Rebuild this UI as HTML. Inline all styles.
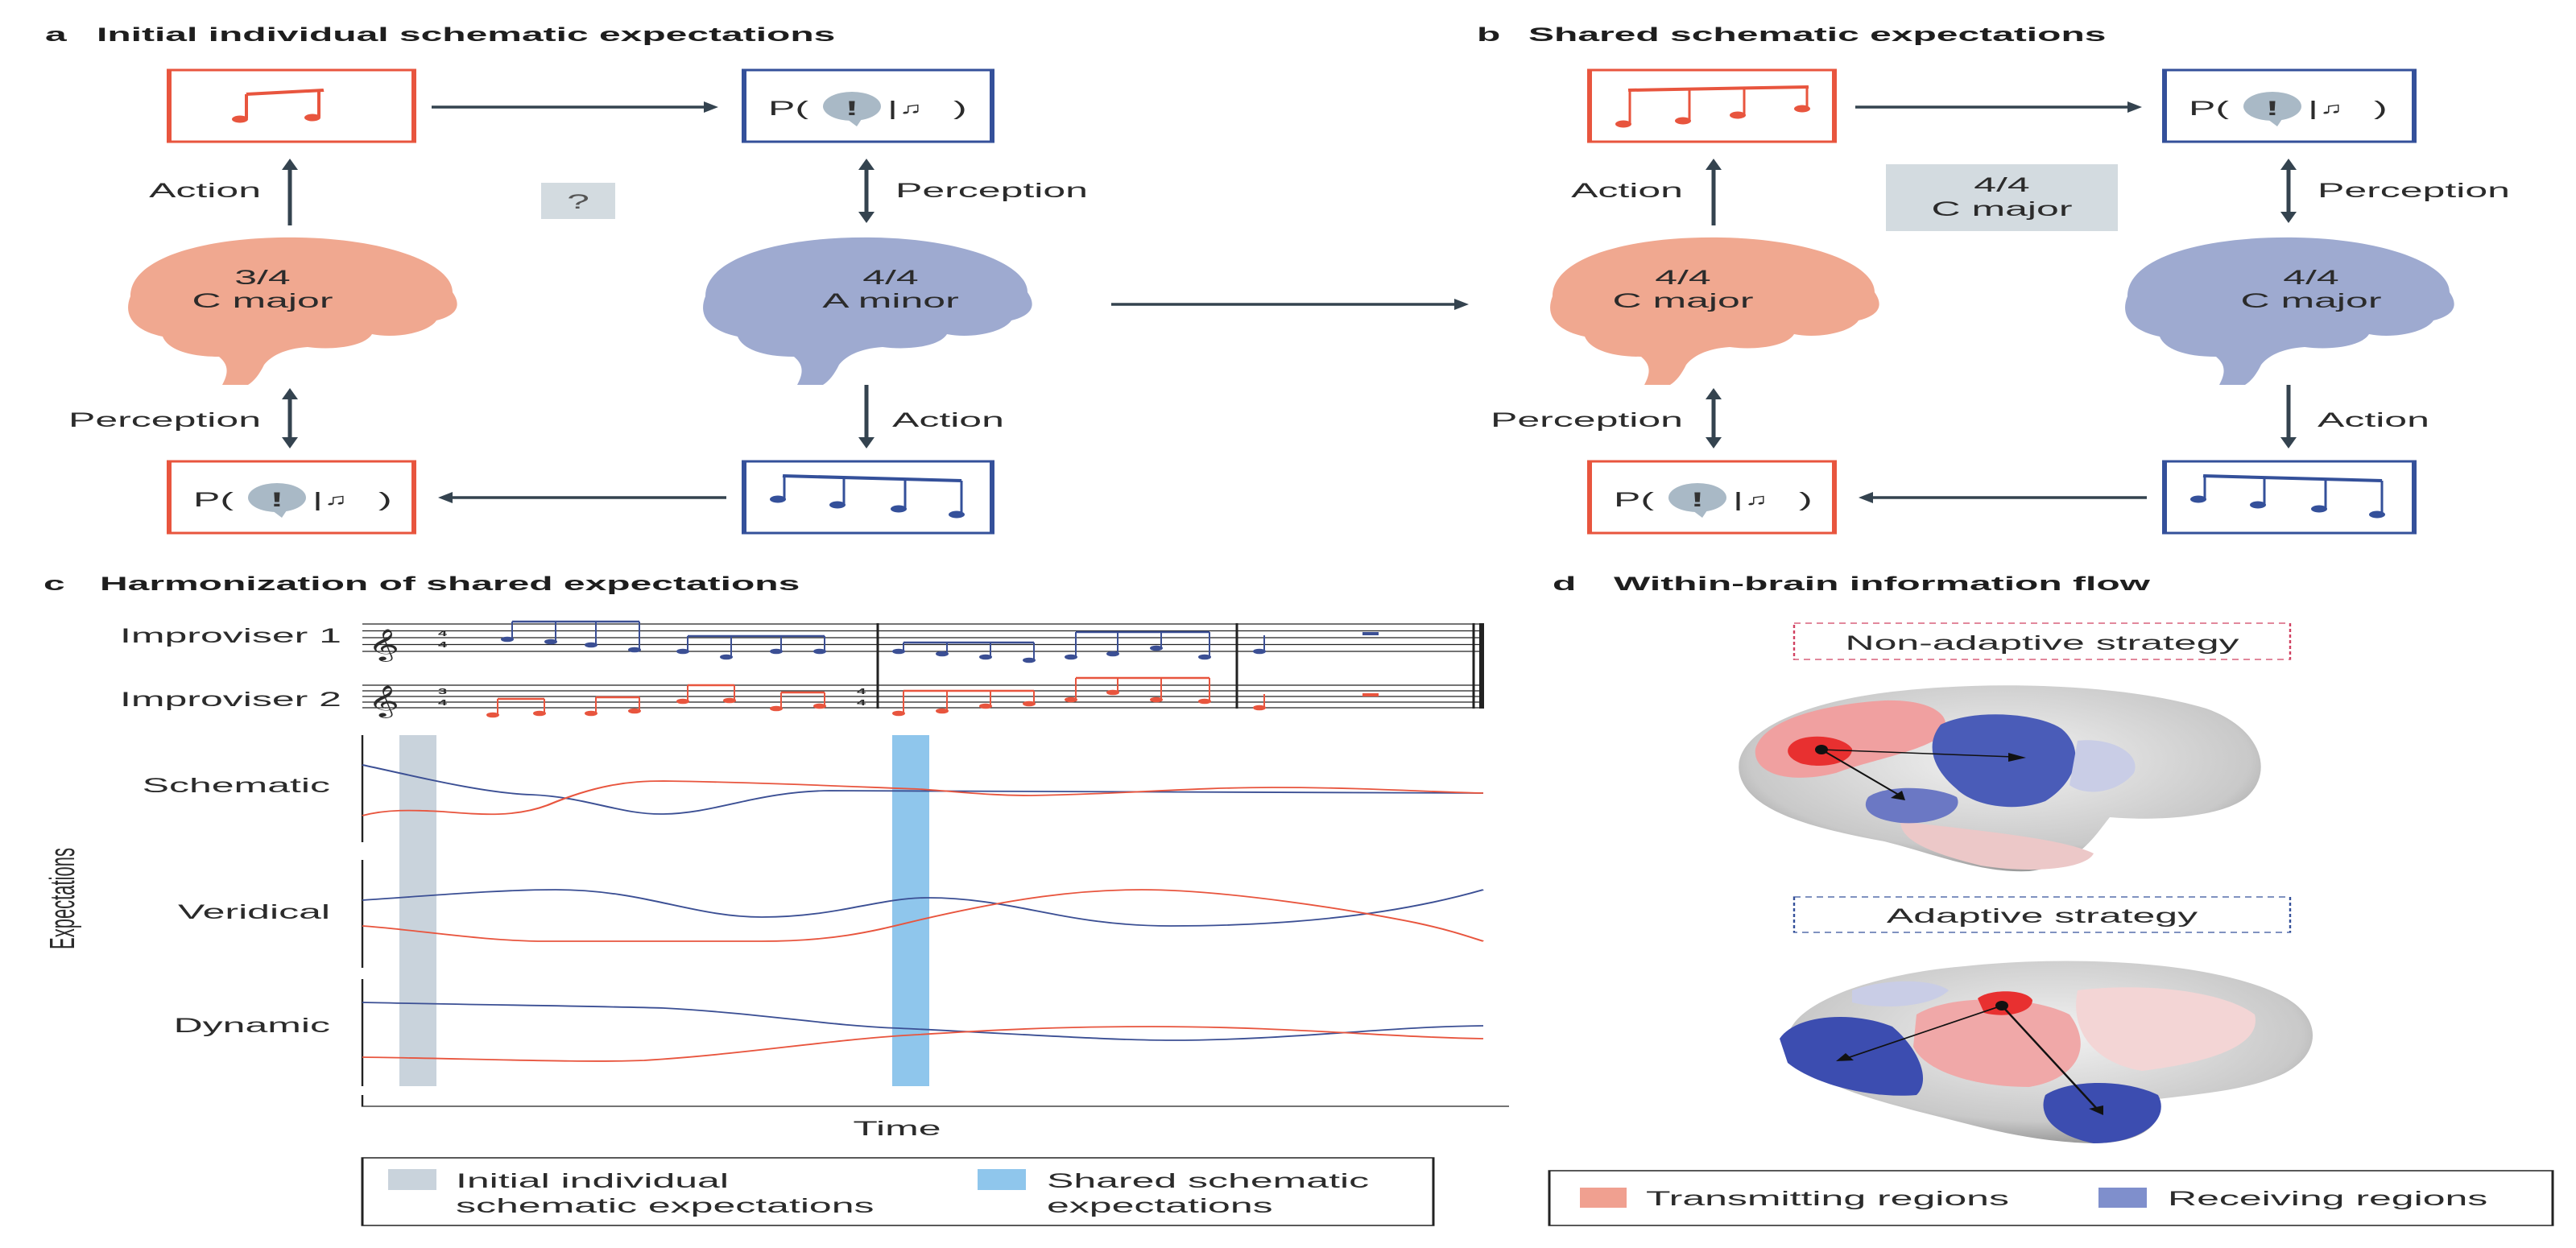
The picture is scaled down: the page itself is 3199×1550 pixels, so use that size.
<!DOCTYPE html>
<html><head><meta charset="utf-8"><style>
html,body{margin:0;padding:0;background:#fff;}
svg{display:block;}
text{font-family:"Liberation Sans","DejaVu Sans",sans-serif;fill:#2b2b2b;}
.t{font-weight:bold;font-size:24px;fill:#1e1e1e;}
.l{font-size:25px;}
.ar{stroke:#34434f;fill:none;}
.ah{fill:#34434f;}
.rb{fill:#fff;stroke:#e8553e;stroke-width:3;}
.bb{fill:#fff;stroke:#34509a;stroke-width:3;}
</style></head><body>
<svg width="3199" height="1550" viewBox="0 0 1599.5 1550" preserveAspectRatio="none" xmlns="http://www.w3.org/2000/svg">
<defs>
<path id="brain" d="M 5,75 C 5,25 55,0 110,2 C 165,4 205,35 205,70 C 212,90 205,100 195,105 C 190,120 170,128 155,122 C 150,138 130,142 115,138 C 100,140 92,150 88,160 C 85,172 82,180 78,185 L 62,185 C 66,170 66,160 60,150 C 40,150 28,140 25,125 C 8,118 0,100 5,75 Z"/>
<g id="pq">
<text x="15" y="56" class="l">P(</text>
<ellipse cx="67" cy="45" rx="18" ry="18" fill="#a9b9c6"/>
<path d="M62,58 L70,70 L74,58 Z" fill="#a9b9c6"/>
<text x="67" y="56" class="l" text-anchor="middle" style="font-weight:bold;fill:#333">!</text>
<text x="89" y="56" class="l">|</text>
<text x="96" y="54" style="font-size:20px">♫</text>
<text x="130" y="56" class="l">)</text>
</g>
<radialGradient id="gb" cx="0.5" cy="0.4" r="0.6"><stop offset="0" stop-color="#f2f2f2"/><stop offset="0.8" stop-color="#c9c9c9"/><stop offset="1" stop-color="#9a9a9a"/></radialGradient>
</defs>

<!-- Panel a -->
<text x="28" y="51" class="t">a</text><text x="60" y="51" class="t">Initial individual schematic expectations</text>
<rect x="105" y="87" width="152" height="89" class="rb"/>
<path d="M153,117 L201,112" stroke="#e8553e" stroke-width="4" fill="none"/>
<path d="M153,117 L153,147 M198,112 L198,145" stroke="#e8553e" stroke-width="2" fill="none"/>
<ellipse cx="149" cy="148" rx="5" ry="4.5" fill="#e8553e"/><ellipse cx="194" cy="146" rx="5" ry="4.5" fill="#e8553e"/>
<rect x="462" y="87" width="154" height="89" class="bb"/>
<use href="#pq" x="462" y="87"/>
<line x1="268" y1="133" x2="440" y2="133" class="ar" stroke-width="3.5"/><polygon points="446,133 437,126 437,140" class="ah"/>
<text x="162" y="245" class="l" text-anchor="end">Action</text>
<line x1="180" y1="209" x2="180" y2="280" class="ar" stroke-width="2.5"/><polygon points="180,197 175,211 185,211" class="ah"/>
<rect x="336" y="227" width="46" height="45" fill="#d3dbe0"/><text x="359" y="259" class="l" text-anchor="middle" style="fill:#555">?</text>
<text x="556" y="245" class="l">Perception</text>
<line x1="538" y1="209" x2="538" y2="265" class="ar" stroke-width="2.5"/><polygon points="538,197 533,211 543,211" class="ah"/><polygon points="538,277 533,263 543,263" class="ah"/>
<use href="#brain" x="76" y="293" fill="#f0a890"/>
<text x="163" y="353" class="l" text-anchor="middle">3/4</text><text x="163" y="382" class="l" text-anchor="middle">C major</text>
<use href="#brain" x="433" y="293" fill="#9eaad0"/>
<text x="553" y="353" class="l" text-anchor="middle">4/4</text><text x="553" y="382" class="l" text-anchor="middle">A minor</text>
<line x1="690" y1="378" x2="905" y2="378" class="ar" stroke-width="3.5"/><polygon points="912,378 903,371 903,385" class="ah"/>
<text x="162" y="530" class="l" text-anchor="end">Perception</text>
<line x1="180" y1="494" x2="180" y2="545" class="ar" stroke-width="2.5"/><polygon points="180,482 175,496 185,496" class="ah"/><polygon points="180,557 175,543 185,543" class="ah"/>
<text x="554" y="530" class="l">Action</text>
<line x1="538" y1="478" x2="538" y2="545" class="ar" stroke-width="2.5"/><polygon points="538,557 533,543 543,543" class="ah"/>
<rect x="105" y="573" width="152" height="89" class="rb"/><use href="#pq" x="105" y="573"/>
<rect x="462" y="573" width="154" height="89" class="bb"/>
<g id="four">
<path d="M486,591 L597,597" stroke="#34509a" stroke-width="4" fill="none"/>
<path d="M487,591 L487,620 M524,593 L524,627 M562,595 L562,632 M597,597 L597,639" stroke="#34509a" stroke-width="1.5" fill="none"/>
<ellipse cx="483" cy="620" rx="5" ry="4.5" fill="#34509a"/><ellipse cx="520" cy="627" rx="5" ry="4.5" fill="#34509a"/><ellipse cx="558" cy="632" rx="5" ry="4.5" fill="#34509a"/><ellipse cx="594" cy="639" rx="5" ry="4.5" fill="#34509a"/>
</g>
<line x1="451" y1="618" x2="279" y2="618" class="ar" stroke-width="3.5"/><polygon points="272,618 281,611 281,625" class="ah"/>

<!-- Panel b -->
<text x="917" y="51" class="t">b</text><text x="949" y="51" class="t">Shared schematic expectations</text>
<rect x="987" y="87" width="152" height="89" class="rb"/>
<path d="M1011,112 L1123,108" stroke="#e8553e" stroke-width="4" fill="none"/>
<path d="M1012,112 L1012,154 M1049,111 L1049,150 M1083,110 L1083,143 M1122,108 L1122,135" stroke="#e8553e" stroke-width="1.5" fill="none"/>
<ellipse cx="1008" cy="154" rx="5" ry="4.5" fill="#e8553e"/><ellipse cx="1045" cy="150" rx="5" ry="4.5" fill="#e8553e"/><ellipse cx="1079" cy="143" rx="5" ry="4.5" fill="#e8553e"/><ellipse cx="1119" cy="135" rx="5" ry="4.5" fill="#e8553e"/>
<rect x="1344" y="87" width="155" height="89" class="bb"/><use href="#pq" x="1344" y="87"/>
<line x1="1152" y1="133" x2="1324" y2="133" class="ar" stroke-width="3.5"/><polygon points="1330,133 1321,126 1321,140" class="ah"/>
<text x="1045" y="245" class="l" text-anchor="end">Action</text>
<line x1="1064" y1="209" x2="1064" y2="280" class="ar" stroke-width="2.5"/><polygon points="1064,197 1059,211 1069,211" class="ah"/>
<rect x="1171" y="204" width="144" height="83" fill="#d3dbe0"/>
<text x="1243" y="238" class="l" text-anchor="middle">4/4</text><text x="1243" y="268" class="l" text-anchor="middle">C major</text>
<text x="1439" y="245" class="l">Perception</text>
<line x1="1421" y1="209" x2="1421" y2="265" class="ar" stroke-width="2.5"/><polygon points="1421,197 1416,211 1426,211" class="ah"/><polygon points="1421,277 1416,263 1426,263" class="ah"/>
<use href="#brain" x="959" y="293" fill="#f0a890"/>
<text x="1045" y="353" class="l" text-anchor="middle">4/4</text><text x="1045" y="382" class="l" text-anchor="middle">C major</text>
<use href="#brain" x="1316" y="293" fill="#9eaad0"/>
<text x="1435" y="353" class="l" text-anchor="middle">4/4</text><text x="1435" y="382" class="l" text-anchor="middle">C major</text>
<text x="1045" y="530" class="l" text-anchor="end">Perception</text>
<line x1="1064" y1="494" x2="1064" y2="545" class="ar" stroke-width="2.5"/><polygon points="1064,482 1059,496 1069,496" class="ah"/><polygon points="1064,557 1059,543 1069,543" class="ah"/>
<text x="1439" y="530" class="l">Action</text>
<line x1="1421" y1="478" x2="1421" y2="545" class="ar" stroke-width="2.5"/><polygon points="1421,557 1416,543 1426,543" class="ah"/>
<rect x="987" y="573" width="152" height="89" class="rb"/><use href="#pq" x="987" y="573"/>
<rect x="1344" y="573" width="155" height="89" class="bb"/>
<use href="#four" x="882" y="0"/>
<line x1="1333" y1="618" x2="1161" y2="618" class="ar" stroke-width="3.5"/><polygon points="1154,618 1163,611 1163,625" class="ah"/>

<!-- Panel c -->
<text x="27" y="733" class="t">c</text><text x="62" y="733" class="t">Harmonization of shared expectations</text>
<text x="212" y="798" class="l" text-anchor="end">Improviser 1</text>
<text x="212" y="877" class="l" text-anchor="end">Improviser 2</text>
<path d="M225,775 H921 M225,783.5 H921 M225,792 H921 M225,800.5 H921 M225,809 H921 M225,851 H921 M225,858 H921 M225,865 H921 M225,872 H921 M225,879 H921" stroke="#222" stroke-width="1.2"/>
<path d="M545,774 V880 M768,774 V880 M915,774 V880" stroke="#222" stroke-width="1.5"/>
<path d="M920,774 V880" stroke="#222" stroke-width="3"/>
<text x="228" y="812" style="font-size:34px">𝄞</text><text x="228" y="882" style="font-size:34px">𝄞</text>
<text x="272" y="790" style="font-size:10px;font-weight:bold">4</text><text x="272" y="804" style="font-size:10px;font-weight:bold">4</text>
<text x="272" y="862" style="font-size:10px;font-weight:bold">3</text><text x="272" y="876" style="font-size:10px;font-weight:bold">4</text>
<text x="532" y="862" style="font-size:10px;font-weight:bold">4</text><text x="532" y="876" style="font-size:10px;font-weight:bold">4</text>
<g fill="#3b4f94">
<ellipse cx="315" cy="794" rx="4" ry="3.3"/><ellipse cx="342" cy="797" rx="4" ry="3.3"/><ellipse cx="367" cy="801" rx="4" ry="3.3"/><ellipse cx="394" cy="807" rx="4" ry="3.3"/>
<ellipse cx="424" cy="809" rx="4" ry="3.3"/><ellipse cx="451" cy="816" rx="4" ry="3.3"/><ellipse cx="482" cy="809" rx="4" ry="3.3"/><ellipse cx="509" cy="809" rx="4" ry="3.3"/>
<ellipse cx="558" cy="809" rx="4" ry="3.3"/><ellipse cx="585" cy="812" rx="4" ry="3.3"/><ellipse cx="612" cy="816" rx="4" ry="3.3"/><ellipse cx="639" cy="820" rx="4" ry="3.3"/>
<ellipse cx="665" cy="816" rx="4" ry="3.3"/><ellipse cx="691" cy="812" rx="4" ry="3.3"/><ellipse cx="718" cy="805" rx="4" ry="3.3"/><ellipse cx="748" cy="816" rx="4" ry="3.3"/>
<ellipse cx="782" cy="809" rx="4" ry="3.3"/><rect x="846" y="785" width="10" height="4"/>
</g>
<path d="M318,772 V794 M345,772 V797 M370,772 V801 M397,772 V807 M427,790 V809 M454,790 V816 M485,790 V809 M512,790 V809 M561,798 V809 M588,798 V812 M615,798 V816 M642,798 V820 M668,785 V816 M694,785 V812 M721,785 V805 M751,785 V816 M785,789 V809" stroke="#3b4f94" stroke-width="1"/>
<path d="M318,772 H397 M427,790 H512 M561,798 H642 M668,785 H751" stroke="#3b4f94" stroke-width="2.5"/>
<g fill="#e8553e">
<ellipse cx="306" cy="888" rx="4" ry="3.3"/><ellipse cx="335" cy="886" rx="4" ry="3.3"/><ellipse cx="367" cy="886" rx="4" ry="3.3"/><ellipse cx="394" cy="883" rx="4" ry="3.3"/>
<ellipse cx="424" cy="871" rx="4" ry="3.3"/><ellipse cx="453" cy="870" rx="4" ry="3.3"/><ellipse cx="482" cy="880" rx="4" ry="3.3"/><ellipse cx="509" cy="877" rx="4" ry="3.3"/>
<ellipse cx="558" cy="886" rx="4" ry="3.3"/><ellipse cx="585" cy="883" rx="4" ry="3.3"/><ellipse cx="612" cy="877" rx="4" ry="3.3"/><ellipse cx="639" cy="874" rx="4" ry="3.3"/>
<ellipse cx="665" cy="869" rx="4" ry="3.3"/><ellipse cx="691" cy="860" rx="4" ry="3.3"/><ellipse cx="718" cy="869" rx="4" ry="3.3"/><ellipse cx="748" cy="871" rx="4" ry="3.3"/>
<ellipse cx="782" cy="879" rx="4" ry="3.3"/><rect x="846" y="861" width="10" height="4"/>
</g>
<path d="M309,868 V888 M338,868 V886 M370,866 V886 M397,866 V883 M427,851 V871 M456,851 V870 M485,860 V880 M512,860 V877 M561,858 V886 M588,858 V883 M615,858 V877 M642,858 V874 M668,842 V869 M694,842 V860 M721,842 V869 M751,842 V871 M785,862 V879" stroke="#e8553e" stroke-width="1"/>
<path d="M309,868 H338 M370,866 H397 M427,851 H456 M485,860 H512 M561,858 H642 M668,842 H751" stroke="#e8553e" stroke-width="2.5"/>
<rect x="248" y="913" width="23" height="436" fill="#c9d3dc"/>
<rect x="554" y="913" width="23" height="436" fill="#8fc6ec"/>
<path d="M225,913 V1046 M225,1068 V1202 M225,1216 V1349 M225,1360 V1374 H937" stroke="#222" stroke-width="1.2" fill="none"/>
<text x="205" y="984" class="l" text-anchor="end">Schematic</text>
<text x="205" y="1141" class="l" text-anchor="end">Veridical</text>
<text x="205" y="1282" class="l" text-anchor="end">Dynamic</text>
<text transform="translate(46,1116) rotate(-90)" text-anchor="middle" style="font-size:22px">Expectations</text>
<text x="557" y="1410" class="l" text-anchor="middle">Time</text>
<g fill="none" stroke-width="1.8">
<path stroke="#3b4f94" d="M225,950 C260,965 300,985 330,987 C365,990 385,1012 412,1011 C445,1010 470,983 515,982 L921,985"/>
<path stroke="#e8553e" d="M225,1013 C240,1005 255,1006 275,1008 C300,1012 320,1015 340,1000 C370,975 390,970 412,970 C480,972 540,978 570,980 C600,984 615,988 640,988 C700,986 740,978 790,978 C850,978 890,984 921,985"/>
<path stroke="#3b4f94" d="M225,1118 C270,1112 310,1105 345,1105 C400,1105 430,1139 473,1139 C520,1139 545,1115 576,1115 C630,1115 660,1150 727,1150 C790,1150 860,1140 921,1105"/>
<path stroke="#e8553e" d="M225,1150 C260,1155 300,1169 339,1169 L473,1169 C520,1169 545,1155 570,1143 C630,1115 670,1105 709,1105 C760,1105 840,1130 879,1146 C900,1155 910,1162 921,1169"/>
<path stroke="#3b4f94" d="M225,1245 C300,1248 380,1250 412,1252 C470,1258 520,1275 558,1277 C640,1285 690,1292 727,1292 C800,1292 860,1275 921,1274"/>
<path stroke="#e8553e" d="M225,1313 C300,1315 360,1320 400,1317 C460,1310 520,1290 570,1285 C640,1276 680,1275 715,1275 C800,1275 860,1288 921,1290"/>
</g>
<rect x="225" y="1438" width="665" height="84" fill="none" stroke="#222" stroke-width="1.5"/>
<rect x="241" y="1452" width="30" height="26" fill="#c9d3dc"/>
<text x="283" y="1475" class="l">Initial individual</text><text x="283" y="1506" class="l">schematic expectations</text>
<rect x="607" y="1452" width="30" height="26" fill="#8fc6ec"/>
<text x="650" y="1475" class="l">Shared schematic</text><text x="650" y="1506" class="l">expectations</text>

<!-- Panel d -->
<text x="964" y="733" class="t">d</text><text x="1002" y="733" class="t">Within-brain information flow</text>
<rect x="1114" y="774" width="308" height="45" fill="none" stroke="#d04060" stroke-width="1.2" stroke-dasharray="4,3"/>
<text x="1268" y="807" class="l" text-anchor="middle">Non-adaptive strategy</text>
<path d="M1080,960 C1075,910 1120,870 1180,858 C1240,845 1320,850 1370,880 C1405,905 1412,960 1395,990 C1380,1015 1340,1020 1310,1015 C1300,1040 1290,1075 1260,1082 C1230,1085 1200,1060 1170,1045 C1130,1030 1085,1010 1080,960 Z" fill="url(#gb)"/>
<path d="M1180,1020 C1220,1030 1280,1040 1300,1060 C1295,1080 1260,1085 1230,1075 C1200,1060 1180,1045 1180,1020 Z" fill="#ecc8c8"/>
<path d="M1090,930 C1095,895 1130,875 1170,870 C1200,868 1215,890 1205,915 C1190,935 1160,945 1140,960 C1110,975 1088,960 1090,930 Z" fill="#f0a0a0"/>
<path d="M1115,920 C1125,910 1145,915 1150,930 C1150,950 1130,955 1118,948 C1108,940 1108,928 1115,920 Z" fill="#e83030"/>
<path d="M1205,900 C1225,880 1265,885 1280,905 C1295,930 1290,970 1270,995 C1250,1010 1225,1000 1215,980 C1200,955 1195,925 1205,900 Z" fill="#4a5cb8"/>
<path d="M1160,990 C1170,975 1200,975 1215,990 C1220,1010 1200,1025 1180,1022 C1162,1018 1155,1005 1160,990 Z" fill="#6b78c4"/>
<path d="M1290,920 C1310,915 1330,935 1325,960 C1315,985 1295,990 1285,975 Z" fill="#c9cde6"/>
<line x1="1131" y1="931" x2="1250" y2="940" stroke="#111" stroke-width="1.5"/><polygon points="1258,941 1247,935 1247,946" fill="#111"/>
<line x1="1131" y1="931" x2="1178" y2="986" stroke="#111" stroke-width="1.5"/><polygon points="1183,994 1174,991 1181,982" fill="#111"/>
<ellipse cx="1131" cy="931" rx="4" ry="6" fill="#111"/>
<rect x="1114" y="1114" width="308" height="44" fill="none" stroke="#34509a" stroke-width="1.2" stroke-dasharray="4,3"/>
<text x="1268" y="1146" class="l" text-anchor="middle">Adaptive strategy</text>
<path d="M1110,1300 C1105,1250 1160,1210 1220,1200 C1290,1185 1380,1195 1420,1240 C1445,1270 1440,1320 1410,1340 C1390,1355 1360,1360 1340,1365 C1345,1395 1330,1420 1300,1420 C1260,1418 1230,1400 1200,1385 C1160,1365 1115,1340 1110,1300 Z" fill="url(#gb)"/>
<path d="M1290,1230 C1330,1220 1380,1230 1400,1260 C1405,1300 1370,1320 1330,1330 C1300,1320 1285,1280 1290,1230 Z" fill="#f3d5d5"/>
<path d="M1190,1260 C1210,1235 1260,1235 1285,1260 C1300,1300 1290,1340 1260,1350 C1225,1350 1195,1330 1188,1300 Z" fill="#f0a8a8"/>
<path d="M1228,1240 C1235,1228 1258,1228 1262,1242 C1262,1258 1245,1265 1232,1258 Z" fill="#e83030"/>
<path d="M1105,1290 C1115,1260 1150,1255 1175,1275 C1190,1300 1200,1340 1190,1360 C1160,1365 1125,1345 1110,1320 Z" fill="#3c4db0"/>
<path d="M1270,1360 C1285,1340 1320,1340 1340,1360 C1348,1390 1330,1420 1300,1420 C1275,1410 1265,1385 1270,1360 Z" fill="#3c4db0"/>
<path d="M1150,1230 C1170,1215 1200,1215 1210,1230 C1200,1250 1170,1255 1150,1245 Z" fill="#c9cde6"/>
<line x1="1243" y1="1249" x2="1147" y2="1314" stroke="#111" stroke-width="1.5"/><polygon points="1140,1318 1146,1308 1151,1317" fill="#111"/>
<line x1="1243" y1="1249" x2="1302" y2="1377" stroke="#111" stroke-width="1.5"/><polygon points="1306,1385 1297,1377 1306,1373" fill="#111"/>
<ellipse cx="1243" cy="1249" rx="4" ry="6" fill="#111"/>
<rect x="962" y="1454" width="623" height="68" fill="none" stroke="#222" stroke-width="1.5"/>
<rect x="981" y="1475" width="29" height="25" fill="#f0a090"/>
<text x="1022" y="1497" class="l">Transmitting regions</text>
<rect x="1303" y="1475" width="30" height="25" fill="#7f8fcc"/>
<text x="1346" y="1497" class="l">Receiving regions</text>
</svg>
</body></html>
